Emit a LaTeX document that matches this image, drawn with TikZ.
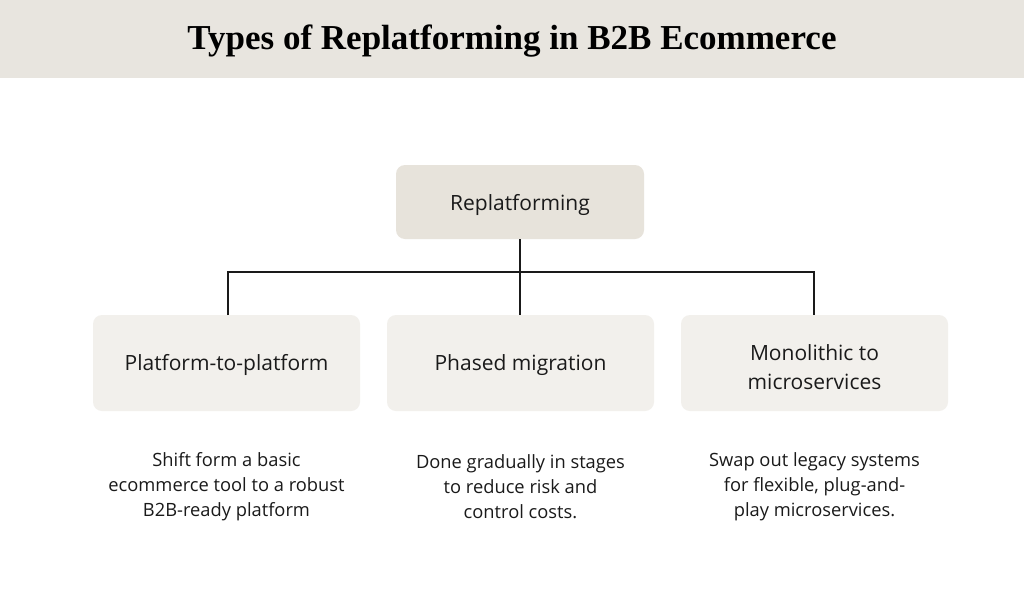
\documentclass[tikz,border=0pt]{standalone}
\usepackage{fontspec}
\setmainfont{Open Sans}
\newfontfamily\titlefont{Liberation Serif}
\definecolor{band}{HTML}{E8E5DF}
\definecolor{topbox}{HTML}{E7E3DB}
\definecolor{subbox}{HTML}{F2F0EC}
\definecolor{ink}{HTML}{1A1A1A}
\begin{document}
\begin{tikzpicture}[x=1pt,y=-1pt,
  box/.style={rounded corners=9pt,draw=none},
  lab/.style={font=\fontsize{21}{29}\selectfont,text=ink,align=center},
  desc/.style={font=\fontsize{18.3}{25}\selectfont,text=ink,align=center},
  conn/.style={draw=ink,line width=1.1pt}]
\useasboundingbox (0,0) rectangle (1024,608);
\fill[white] (0,0) rectangle (1024,608);
\fill[band] (0,0) rectangle (1024,78);
\node[font=\titlefont\bfseries\fontsize{35}{38}\selectfont,text=black] (title) at (512,41) {Types of Replatforming in B2B Ecommerce};
\fill[box,topbox] (396,165) rectangle (644,239);
\node[lab] (root) at (520,205) {Replatforming};
\fill[box,subbox] (93,315) rectangle (360,411);
\fill[box,subbox] (387,315) rectangle (654,411);
\fill[box,subbox] (681,315) rectangle (948,411);
\node[lab] (a) at (226.5,365) {Platform-to-platform};
\node[lab] (b) at (520.5,365) {Phased migration};
\node[lab] (c) at (814.5,367) {Monolithic to\\microservices};
\coordinate (rb) at (520,239);
\coordinate (j) at (520,272);
\coordinate (ja) at (228,272);
\coordinate (jc) at (814,272);
\coordinate (at) at (228,315);
\coordinate (bt) at (520,315);
\coordinate (ct) at (814,315);
\draw[conn] (rb) -- (bt);
\draw[conn] (at) -- (ja) -- (jc) -- (ct);
\node[desc] (da) at (226.5,487) {Shift form a basic\\ecommerce tool to a robust\\B2B-ready platform};
\node[desc] (db) at (520.5,487) {Done gradually in stages\\to reduce risk and\\control costs.};
\node[desc] (dc) at (814.5,487) {Swap out legacy systems\\for flexible, plug-and-\\play microservices.};
\end{tikzpicture}
\end{document}
